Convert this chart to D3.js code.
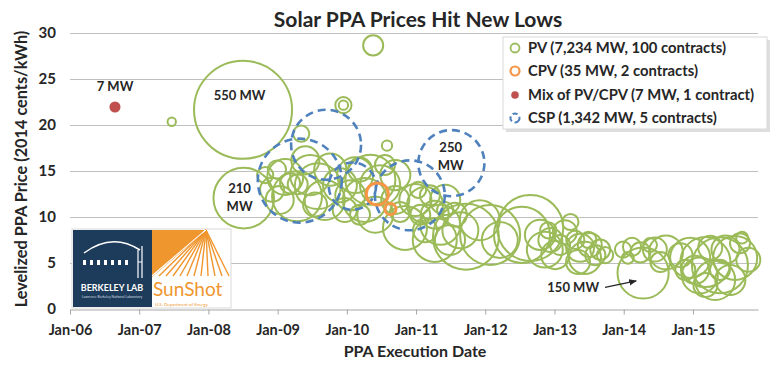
<!DOCTYPE html>
<html><head><meta charset="utf-8">
<script src="https://cdn.jsdelivr.net/npm/d3@7"></script>
<style>body{margin:0;background:#fff} text{font-family:Lato,"Open Sans",sans-serif;font-weight:bold;fill:#262626}</style>
</head><body><svg id="c" width="781" height="369"></svg>
<script>
// ---- data: [execution date (decimal year), levelized price (2014 cents/kWh), capacity (MW)]
const pvContracts = [
 [2007.47,20.3,4],[2008.50,21.6,550],[2008.51,12.0,210],[2010.38,28.6,23],[2009.95,22.1,15],
 [2009.95,22.1,5],[2009.34,19.0,15],[2010.58,17.7,6],[2009.11,14.3,74],[2009.18,13.6,23],
 [2009.29,13.5,23],[2008.99,15.1,19],[2009.47,14.5,92],[2009.58,13.3,121],[2009.28,12.2,143],
 [2008.92,12.9,33],[2009.40,16.1,45],[2009.76,15.1,59],[2009.68,11.8,92],[2009.03,11.8,45],
 [2009.90,13.4,66],[2009.54,11.3,33],[2008.82,14.5,15],[2010.12,14.5,74],[2010.26,11.8,111],
 [2010.05,12.3,52],[2010.48,13.4,92],[2010.19,15.1,33],[2010.70,14.5,52],[2009.97,10.7,33],
 [2010.41,10.2,74],[2010.70,11.8,45],[2010.84,8.75,111],[2010.55,15.6,23],[2010.19,10.2,23],
 [2010.34,14.0,143],[2010.77,10.5,23],[2010.99,11.8,59],[2011.13,11.25,74],[2011.27,10.2,45],
 [2011.06,10.2,23],[2011.42,11.8,52],[2011.35,9.1,92],[2011.13,8.5,33],[2011.56,10.2,33],
 [2011.49,7.45,52],[2011.20,12.3,23],[2011.64,8.5,74],[2011.03,12.9,15],[2011.42,10.7,15],
 [2011.27,7.45,111],[2011.72,7.8,249],[2012.07,8.0,206],[2012.65,8.75,249],[2012.53,8.0,180],
 [2011.92,9.6,92],[2012.21,7.45,74],[2012.79,8.0,52],[2012.94,7.45,33],[2012.91,8.5,15],
 [2013.08,6.9,23],[2013.01,5.8,45],[2012.86,6.4,74],[2013.15,8.3,33],[2013.23,9.4,15],
 [2013.37,6.6,45],[2013.44,5.5,59],[2013.51,6.9,33],[2013.59,5.8,23],[2013.34,5.05,33],
 [2013.66,6.4,23],[2013.30,7.45,19],[2013.49,7.45,15],[2013.73,5.8,15],[2014.28,3.86,150],
 [2013.99,6.4,15],[2014.12,6.7,19],[2014.24,6.1,23],[2014.45,6.4,33],[2014.61,6.1,66],
 [2014.38,6.9,11],[2014.06,5.5,8],[2014.53,5.05,23],[2014.96,5.5,92],[2015.18,5.05,143],
 [2015.39,4.7,180],[2015.61,5.5,111],[2015.10,3.6,74],[2015.32,3.1,92],[2015.03,4.2,45],
 [2015.47,6.4,45],[2015.68,7.1,23],[2015.71,7.7,8],[2015.25,6.6,33],[2014.82,5.8,33],
 [2015.54,3.1,52],[2015.80,5.3,33],[2014.89,4.2,23],[2015.39,4.2,23],[2015.18,2.55,33]
];
const cpvContracts = [[2010.44,12.45,28],[2010.63,10.8,7]];
const mixContracts = [[2006.65,21.9,7]];
const cspContracts = [[2009.32,13.9,404],[2009.70,17.8,280],[2010.91,12.3,280],[2011.51,15.8,250],[2010.08,13.3,128]];

const yTicks = [0,5,10,15,20,25,30];
const xTickYears = [2006,2007,2008,2009,2010,2011,2012,2013,2014,2015];
const xTickLabels = ["Jan-06","Jan-07","Jan-08","Jan-09","Jan-10","Jan-11","Jan-12","Jan-13","Jan-14","Jan-15"];
const legendLabels = ["PV (7,234 MW, 100 contracts)","CPV (35 MW, 2 contracts)","Mix of PV/CPV (7 MW, 1 contract)","CSP (1,342 MW, 5 contracts)"];
const titleText = "Solar PPA Prices Hit New Lows";
const xTitle = "PPA Execution Date";
const yTitle = "Levelized PPA Price (2014 cents/kWh)";
// annotations: [label lines, year, price]
const annotations = [[["7 MW"],2006.65,23.6],[["550 MW"],2008.45,22.7],[["210","MW"],2008.45,12.6],[["250","MW"],2011.50,17.0],[["150 MW"],2013.27,1.8]];
const arrowFrom = [2013.73,2.3], arrowTo = [2014.18,3.0];

const C = {pv:"#9bbb59", cpv:"#f79646", mix:"#c0504d", csp:"#4f81bd", grid:"#bfbfbf"};

const svg = d3.select("#c");
const x = d3.scaleLinear().domain([2006, 2015.94]).range([70, 758]);
const y = d3.scaleLinear().domain([0, 30]).range([308.5, 32.5]);
const r = d3.scaleSqrt().domain([0, 550]).range([0, 49]);

// grid
svg.append("g").selectAll("line").data(yTicks.filter(d=>d>0)).join("line")
  .attr("x1", x.range()[0]).attr("x2", x.range()[1])
  .attr("y1", d=>Math.round(y(d))+0.5).attr("y2", d=>Math.round(y(d))+0.5)
  .attr("stroke", C.grid).attr("stroke-width",1);

// axes
const xAxis = svg.append("g").attr("transform", `translate(0,${Math.round(y(0))+0.5})`)
  .call(d3.axisBottom(x).tickValues(xTickYears).tickFormat((d,i)=>xTickLabels[i]).tickSizeOuter(0).tickSizeInner(5).tickPadding(10));
xAxis.select(".domain").attr("stroke","#a6a6a6");
xAxis.selectAll(".tick line").attr("stroke","#a6a6a6");
xAxis.selectAll("text").style("font-size","14.5px").attr("fill","#262626").attr("font-family","Lato").attr("font-weight","bold");

const yAxis = svg.append("g").attr("transform", `translate(${x.range()[0]},0)`)
  .call(d3.axisLeft(y).tickValues(yTicks).tickSize(0).tickPadding(14));
yAxis.select(".domain").remove();
yAxis.selectAll("text").style("font-size","15px").attr("fill","#262626").attr("font-family","Lato").attr("font-weight","bold");

// logo (Berkeley Lab / SunShot)
const logo = svg.append("g");
logo.append("rect").attr("x",72).attr("y",229).attr("width",159).attr("height",79).attr("fill","#fff").attr("stroke","#d9d9d9");
logo.append("rect").attr("x",73).attr("y",230).attr("width",79).attr("height",77).attr("fill","#1d3b5a");
logo.append("path").attr("d","M152,230 L206,230 L152,277 Z").attr("fill","#f0962e");
logo.append("clipPath").attr("id","tri").append("path").attr("d","M152,230 L206,230 L152,277 Z");
const rayEnds = d3.range(0,12).map(i=>152+i*7);
logo.append("g").selectAll("line").data(rayEnds).join("line")
  .attr("x1",206).attr("y1",230).attr("x2",d=>d).attr("y2",276).attr("stroke","#f0962e").attr("stroke-width",1.4);
logo.append("g").attr("clip-path","url(#tri)").selectAll("line").data(rayEnds).join("line")
  .attr("x1",206).attr("y1",230).attr("x2",d=>d).attr("y2",276).attr("stroke","#fff").attr("stroke-width",1.4);
logo.append("path").attr("d","M84,253 Q112,232 140,250").attr("fill","none").attr("stroke","#fff").attr("stroke-width",1.5);
logo.append("path").attr("d","M138,250 L138,278 M142,246 L142,278 M138,262 L142,262").attr("stroke","#fff").attr("stroke-width",1.2);
for (let i=0;i<7;i++) logo.append("rect").attr("x",83+i*7).attr("y",260).attr("width",3).attr("height",5).attr("fill","#fff");
logo.append("text").attr("x",112).attr("y",291).attr("text-anchor","middle").style("font-size","9px").style("fill","#fff").text("BERKELEY LAB");
logo.append("text").attr("x",112).attr("y",298).attr("text-anchor","middle").style("font-size","3.5px").style("fill","#cfd8e0").style("font-weight","normal").text("Lawrence Berkeley National Laboratory");
logo.append("text").attr("x",153).attr("y",296).style("font-size","19px").style("fill","#f0962e").style("font-weight","normal").text("SunShot");
logo.append("text").attr("x",155).attr("y",306).style("font-size","4.5px").style("fill","#f0962e").style("font-weight","normal").text("U.S. Department of Energy");

// bubbles
const plot = svg.append("g");
plot.append("g").selectAll("circle").data(pvContracts).join("circle")
  .attr("cx", d=>x(d[0])).attr("cy", d=>y(d[1])).attr("r", d=>r(d[2]))
  .attr("fill","none").attr("stroke",C.pv).attr("stroke-width",2);
plot.append("g").selectAll("circle").data(cspContracts).join("circle")
  .attr("cx", d=>x(d[0])).attr("cy", d=>y(d[1])).attr("r", d=>r(d[2]))
  .attr("fill","none").attr("stroke",C.csp).attr("stroke-width",2.6).attr("stroke-dasharray","8,5");
plot.append("g").selectAll("circle").data(cpvContracts).join("circle")
  .attr("cx", d=>x(d[0])).attr("cy", d=>y(d[1])).attr("r", d=>r(d[2]))
  .attr("fill","none").attr("stroke",C.cpv).attr("stroke-width",3);
plot.append("g").selectAll("circle").data(mixContracts).join("circle")
  .attr("cx", d=>x(d[0])).attr("cy", d=>y(d[1])).attr("r", d=>r(d[2]))
  .attr("fill",C.mix);

// annotations
annotations.forEach(([lines,yr,pr])=>{
  const t = svg.append("text").attr("x",x(yr)).attr("y",y(pr)).attr("text-anchor","middle").style("font-size","13px");
  lines.forEach((l,i)=>t.append("tspan").attr("x",x(yr)).attr("dy", i===0?0:18).text(l));
});
svg.append("defs").append("marker").attr("id","ah").attr("viewBox","0 0 10 10").attr("refX",9).attr("refY",5)
  .attr("markerWidth",6).attr("markerHeight",6).attr("orient","auto")
  .append("path").attr("d","M0,1 L10,5 L0,9 Z").attr("fill","#262626");
svg.append("line").attr("x1",x(arrowFrom[0])).attr("y1",y(arrowFrom[1])).attr("x2",x(arrowTo[0])).attr("y2",y(arrowTo[1]))
  .attr("stroke","#262626").attr("stroke-width",1.3).attr("marker-end","url(#ah)");

// title & axis titles
svg.append("text").attr("x",418).attr("y",27).attr("text-anchor","middle").style("font-size","21px").text(titleText);
svg.append("text").attr("x",415).attr("y",357).attr("text-anchor","middle").style("font-size","16px").text(xTitle);
svg.append("text").attr("transform","translate(27,169) rotate(-90)").attr("text-anchor","middle").style("font-size","16.3px").text(yTitle);

// legend
const lg = svg.append("g");
lg.append("rect").attr("x",506).attr("y",40).attr("width",264).attr("height",92).attr("fill","#c8c8c8").attr("opacity",0.6);
lg.append("rect").attr("x",503).attr("y",37).attr("width",264).attr("height",92).attr("fill","#fff").attr("stroke","#d9d9d9");
const ly = [48,71,95,118];
lg.append("circle").attr("cx",515).attr("cy",ly[0]).attr("r",4.5).attr("fill","none").attr("stroke",C.pv).attr("stroke-width",1.8);
lg.append("circle").attr("cx",515).attr("cy",ly[1]).attr("r",4.5).attr("fill","none").attr("stroke",C.cpv).attr("stroke-width",2.2);
lg.append("circle").attr("cx",515).attr("cy",ly[2]).attr("r",3.8).attr("fill",C.mix);
lg.append("circle").attr("cx",515).attr("cy",ly[3]).attr("r",4.5).attr("fill","none").attr("stroke",C.csp).attr("stroke-width",2).attr("stroke-dasharray","5,3").attr("transform",`rotate(30,515,${ly[3]})`);
lg.selectAll("text.l").data(legendLabels).join("text").attr("class","l")
  .attr("x",528).attr("y",(d,i)=>ly[i]+5).style("font-size","14.8px").text(d=>d);
</script></body></html>
